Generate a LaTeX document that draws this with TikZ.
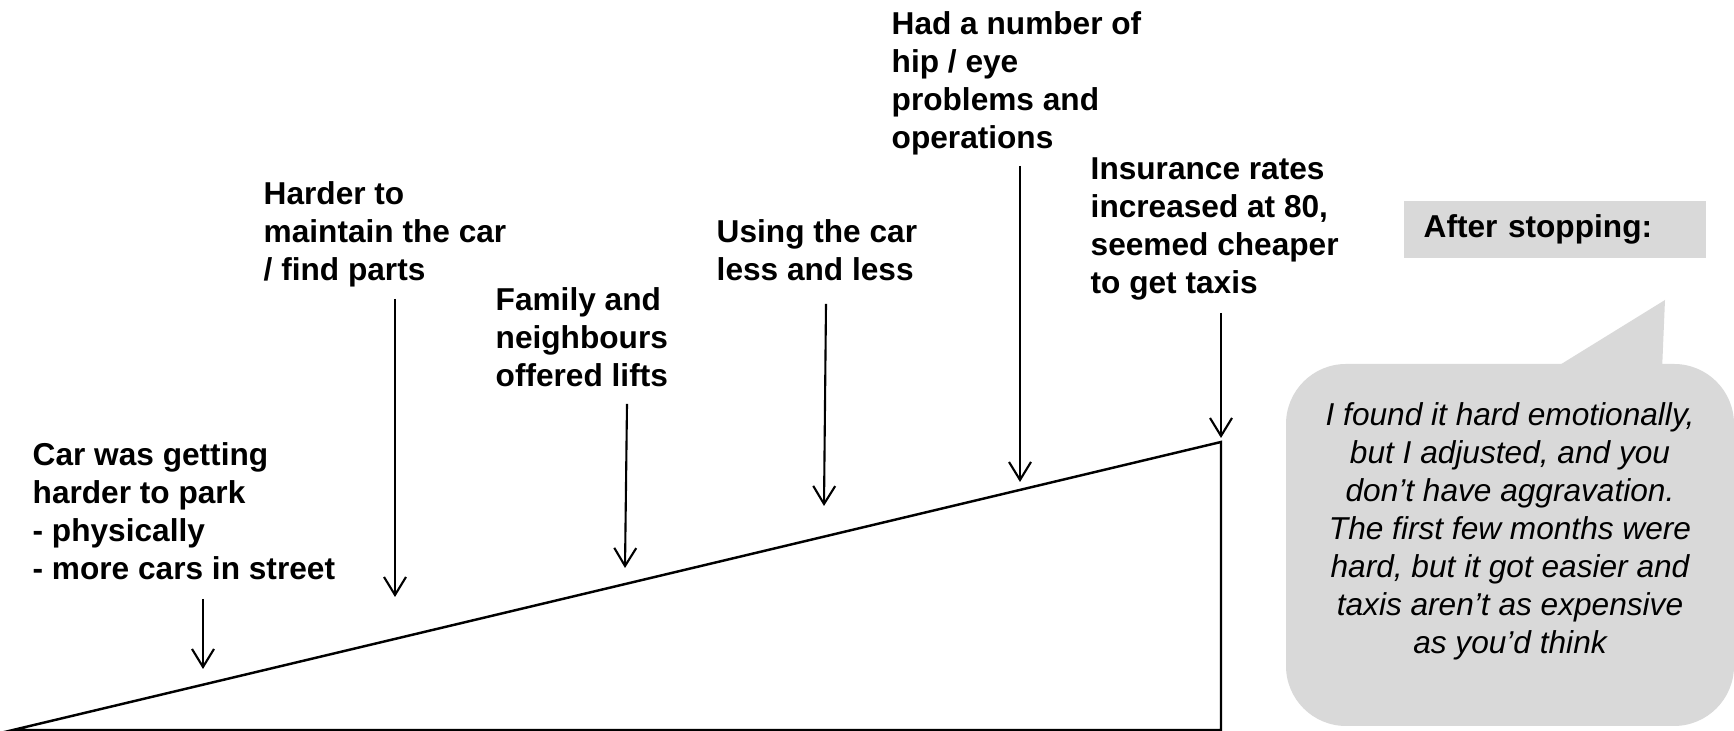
\documentclass[tikz,border=0pt]{standalone}
\usepackage{fontspec}
\setmainfont{Liberation Sans}
\usetikzlibrary{positioning}
\usetikzlibrary{arrows.meta}

\definecolor{bubblegray}{HTML}{D9D9D9}

\tikzset{
  remark/.style={anchor=north west, inner sep=0pt, align=left,
    font=\fontsize{9}{10.8}\selectfont\bfseries},
  pointer/.style={-{Straight Barb[length=1.8mm,width=2.2mm]}, line width=0.6pt},
  slope/.style={line width=0.7pt, line join=miter},
}

\begin{document}
\begin{tikzpicture}
    \useasboundingbox (0,0) rectangle (17.34,7.31);

    \node [remark] (park) at (0.32,2.89) {Car was getting\\harder to park\\- physically\\- more cars in street};
    \node [remark] (parts) at (2.63,5.50) {Harder to\\maintain the car\\/ find parts};
    \node [remark] (lifts) at (4.95,4.44) {Family and\\neighbours\\offered lifts};
    \node [remark] (less) at (7.16,5.12) {Using the car\\less and less};
    \node [remark] (ops) at (8.91,7.20) {Had a number of\\hip / eye\\problems and\\operations};
    \node [remark] (taxis) at (10.90,5.74) {Insurance rates\\increased at 80,\\seemed cheaper\\to get taxis};

    % the slope
    \coordinate (base) at (0.13,0.01);
    \coordinate (peak) at (12.21,2.89);
    \coordinate (corner) at (12.21,0.01);
    \draw [slope] (base) -- (peak) -- (corner) -- cycle;

    \coordinate (s1) at (2.03,1.32);   \coordinate (e1) at (2.03,0.62);
    \coordinate (s2) at (3.95,4.32);   \coordinate (e2) at (3.95,1.34);
    \coordinate (s3) at (6.27,3.27);   \coordinate (e3) at (6.25,1.63);
    \coordinate (s4) at (8.26,4.27);   \coordinate (e4) at (8.24,2.25);
    \coordinate (s5) at (10.20,5.65);  \coordinate (e5) at (10.20,2.49);
    \coordinate (s6) at (12.21,4.18);  \coordinate (e6) at (12.21,2.93);

    \draw [pointer] (s1) -- (e1);
    \draw [pointer] (s2) -- (e2);
    \draw [pointer] (s3) -- (e3);
    \draw [pointer] (s4) -- (e4);
    \draw [pointer] (s5) -- (e5);
    \draw [pointer] (s6) -- (e6);

    % after stopping
    \node [fill=bubblegray, anchor=north west, inner xsep=0.2cm, inner ysep=0pt,
      text width=2.62cm, minimum height=0.57cm, align=left,
      font=\fontsize{9}{10.8}\selectfont\bfseries] (after) at (14.03,5.31) {After stopping:};

    \node [fill=bubblegray, rounded corners=0.6cm, minimum width=4.48cm,
      minimum height=3.62cm, inner sep=0pt] (bubble) at (15.10,1.86) {};
    \fill [bubblegray] (15.50,3.60) -- (16.65,4.31) -- (16.62,3.60) -- cycle;
    \node [align=center, inner sep=0pt, font=\fontsize{9}{10.8}\selectfont\itshape,
      above=0.135cm of bubble.center, anchor=center] (quote)
      {I found it hard emotionally,\\but I adjusted, and you\\don’t have aggravation.\\The first few months were\\hard, but it got easier and\\taxis aren’t as expensive\\as you’d think};
  \end{tikzpicture}
\end{document}
